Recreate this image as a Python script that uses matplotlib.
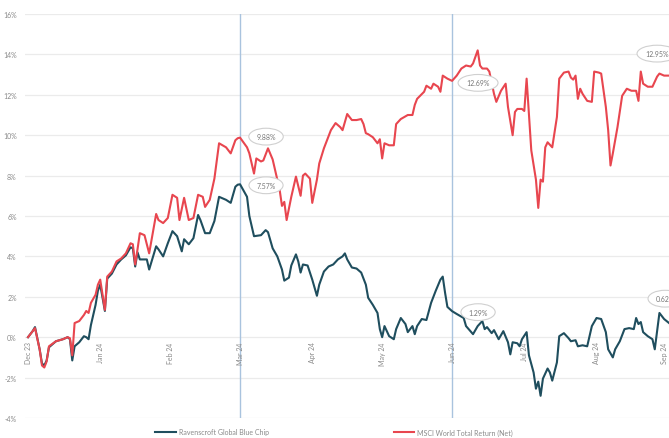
import matplotlib
matplotlib.use("Agg")
import matplotlib.pyplot as plt
import pandas as pd

plt.rcParams["font.family"] = ["Lato", "DejaVu Sans"]

START = pd.Timestamp("2023-12-29")

# Cumulative return (%) — Ravenscroft Global Blue Chip, by calendar day since start
blue_days = [0, 2, 3, 5, 6, 7, 8, 9, 12, 15,
             17, 18, 19, 20, 22, 24, 25, 26, 27, 29,
             30, 31, 33, 34, 36, 38, 40, 42, 44, 45,
             46, 47, 48, 51, 52, 55, 56, 58, 60, 62,
             64, 66, 67, 69, 71, 73, 74, 76, 78, 80,
             82, 85, 87, 89, 90, 91, 94, 95, 97, 100,
             102, 103, 105, 107, 109, 110, 112, 113, 115, 116,
             117, 118, 120, 122, 124, 125, 127, 129, 131, 133,
             135, 136, 137, 139, 141, 143, 145, 146, 148, 150,
             151, 152, 153, 155, 157, 158, 160, 162, 163, 165,
             166, 167, 169, 171, 173, 175, 177, 178, 179, 180,
             182, 184, 187, 188, 191, 193, 195, 196, 197, 199,
             200, 202, 204, 206, 207, 208, 210, 211, 212, 214,
             215, 217, 218, 219, 220, 221, 223, 224, 225, 227,
             228, 230, 232, 233, 235, 236, 238, 240, 242, 244,
             246, 248, 249, 251, 252, 254, 256, 258, 260, 261,
             262, 263, 264, 266, 268, 269, 271, 273, 276]
blue_vals = [0.0, 0.3, 0.5, -0.6, -1.3, -1.4, -1.15, -0.5, -0.2, -0.1,
             0.0, -0.1, -1.15, -0.45, -0.25, 0.05, 0.0, -0.1, 0.6, 1.6,
             2.3, 2.6, 1.3, 2.9, 3.15, 3.6, 3.85, 4.05, 4.45, 4.4,
             3.5, 4.2, 3.85, 3.85, 3.35, 4.5, 4.35, 4.0, 4.65, 5.25,
             5.0, 4.25, 4.85, 4.6, 4.9, 6.05, 5.8, 5.15, 5.15, 5.75,
             6.95, 6.8, 6.65, 7.45, 7.55, 7.57, 6.95, 6.0, 5.0, 5.05,
             5.3, 5.2, 4.4, 4.0, 3.35, 2.8, 2.95, 3.55, 4.1, 3.75,
             3.2, 3.6, 3.55, 2.85, 2.05, 2.6, 3.25, 3.5, 3.6, 3.85,
             4.0, 4.15, 3.85, 3.45, 3.4, 3.2, 2.6, 1.95, 1.6, 1.2,
             0.4, 0.0, 0.55, 0.05, -0.1, 0.4, 0.95, 0.65, 0.25, 0.55,
             0.15, 0.55, 0.9, 0.85, 1.7, 2.3, 2.85, 3.0, 2.2, 1.5,
             1.29, 1.15, 0.95, 0.55, 0.15, 0.55, 0.8, 0.4, 0.5, 0.2,
             0.35, -0.1, 0.3, -0.25, -0.85, -0.25, -0.3, -0.45, -0.1, 0.25,
             -0.9, -1.75, -2.55, -2.2, -2.9, -2.05, -1.55, -1.75, -2.15, -1.25,
             0.05, 0.2, -0.05, -0.2, -0.15, -0.45, -0.4, -0.45, 0.55, 0.95,
             0.9, 0.25, -0.6, -1.0, -0.6, -0.2, 0.4, 0.45, 0.4, 0.95,
             0.65, 0.75, 0.25, 0.05, -0.1, -0.6, 1.2, 0.9, 0.62]

# Cumulative return (%) — MSCI World Total Return (Net)
red_days = [0, 2, 3, 5, 6, 7, 8, 9, 12, 15,
            17, 18, 19, 20, 22, 24, 25, 26, 27, 29,
            30, 31, 33, 34, 36, 38, 40, 42, 44, 45,
            46, 47, 48, 50, 52, 55, 56, 58, 60, 62,
            64, 65, 67, 69, 71, 73, 75, 76, 78, 80,
            82, 85, 87, 89, 90, 91, 94, 95, 97, 98,
            100, 101, 103, 105, 106, 108, 109, 110, 111, 113,
            115, 117, 118, 119, 121, 122, 124, 125, 127, 130,
            132, 134, 135, 137, 139, 141, 143, 144, 145, 146,
            148, 150, 151, 152, 153, 155, 157, 158, 160, 163,
            165, 166, 167, 170, 171, 173, 174, 176, 177, 178,
            180, 182, 184, 186, 188, 190, 191, 193, 194, 195,
            197, 198, 200, 201, 203, 205, 206, 208, 209, 210,
            212, 213, 214, 215, 216, 218, 219, 220, 221, 222,
            223, 225, 227, 228, 230, 232, 233, 234, 235, 236,
            237, 238, 240, 242, 243, 245, 246, 248, 249, 250,
            251, 253, 255, 257, 259, 261, 262, 263, 264, 266,
            268, 270, 271, 273, 276]
red_vals = [0.0, 0.3, 0.45, -0.6, -1.4, -1.5, -1.2, -0.45, -0.2, -0.1,
            0.0, -0.05, -0.9, 0.7, 0.8, 1.1, 1.3, 1.2, 1.7, 2.1,
            2.6, 2.85, 1.35, 3.0, 3.25, 3.75, 3.9, 4.15, 4.65, 4.6,
            3.6, 4.35, 5.15, 5.05, 4.15, 6.1, 5.8, 5.65, 5.9, 7.05,
            6.9, 5.8, 6.9, 5.8, 5.9, 7.05, 6.95, 6.45, 6.8, 7.85,
            9.6, 9.4, 9.1, 9.75, 9.85, 9.88, 9.4, 9.1, 8.1, 8.85,
            8.7, 8.75, 9.35, 8.8, 8.3, 7.3, 6.5, 6.7, 5.8, 6.95,
            7.95, 7.0, 8.0, 8.1, 7.85, 6.65, 7.8, 8.6, 9.35, 10.25,
            10.6, 10.4, 10.25, 11.05, 10.75, 10.75, 10.8, 10.55, 10.1, 10.05,
            9.9, 9.6, 9.8, 8.85, 9.6, 9.5, 9.5, 10.55, 10.8, 11.0,
            11.0, 11.5, 11.8, 12.15, 12.45, 12.3, 12.55, 12.4, 12.15, 12.95,
            12.8, 12.69, 12.95, 13.3, 13.45, 13.4, 13.55, 14.2, 13.45, 13.3,
            13.3, 13.15, 12.05, 11.65, 12.2, 12.55, 11.4, 10.0, 11.15, 11.3,
            11.3, 11.2, 12.8, 11.05, 9.25, 7.8, 6.4, 7.8, 7.7, 9.4,
            9.65, 9.4, 10.9, 12.8, 13.1, 13.15, 12.85, 12.75, 12.95, 11.8,
            12.3, 12.05, 11.7, 11.65, 13.15, 13.1, 13.05, 11.4, 10.25, 8.5,
            9.1, 10.4, 11.95, 12.3, 12.2, 12.2, 11.7, 13.15, 12.55, 12.4,
            12.4, 12.9, 13.05, 12.95, 12.95]

tick_dates = ["2023-12-29", "2024-01-29", "2024-02-28", "2024-03-29", "2024-04-29",
              "2024-05-29", "2024-06-28", "2024-07-29", "2024-08-29", "2024-09-27"]
tick_labels = ["Dec 23", "Jan 24", "Feb 24", "Mar 24", "Apr 24",
               "May 24", "Jun 24", "Jul 24", "Aug 24", "Sep 24"]
y_ticks = [-4, -2, 0, 2, 4, 6, 8, 10, 12, 14, 16]

marker_days = [91, 182]          # 29 Mar 2024, 28 Jun 2024

series_names = ["Ravenscroft Global Blue Chip", "MSCI World Total Return (Net)"]
BLUE = "#1f4e5e"
RED = "#e8464f"
GRID = "#ebebeb"
TXT = "#8a8a8a"


def to_dates(days):
    return START + pd.to_timedelta(days, unit="D")


W, H = 669, 439
fig = plt.figure(figsize=(W / 100, H / 100), dpi=100)
ax_left, ax_right, ax_top, ax_bottom = 25, 700, 15, 419
ax = fig.add_axes([ax_left / W, (H - ax_bottom) / H,
                   (ax_right - ax_left) / W, (ax_bottom - ax_top) / H])

# x axis sits on the zero line; set before configuring tick labels
ax.spines["bottom"].set_position(("data", 0))
for s in ax.spines.values():
    s.set_visible(False)

bd = to_dates(blue_days)
rd = to_dates(red_days)

for y in y_ticks:
    ax.axhline(y, color=GRID, lw=0.9, zorder=0)

for d in marker_days:
    ax.axvline(to_dates([d])[0], color="#a9c3de", lw=1.0, zorder=1)

ax.plot(bd, blue_vals, color=BLUE, lw=1.5, zorder=3, label=series_names[0],
        solid_joinstyle="round")
ax.plot(rd, red_vals, color=RED, lw=1.5, zorder=3, label=series_names[1],
        solid_joinstyle="round")

px_per_day = 2.33
ax.set_xlim(START - pd.Timedelta(days=(28 - ax_left) / px_per_day),
            START + pd.Timedelta(days=(ax_right - 28) / px_per_day))
ax.set_ylim(-4, 16)

ax.set_yticks(y_ticks)
ax.set_yticklabels([f"{v}%" for v in y_ticks])
ax.set_xticks(pd.to_datetime(tick_dates))
ax.set_xticklabels(tick_labels)
ax.tick_params(axis="x", length=0, pad=3, labelsize=5, labelcolor=TXT,
               labelrotation=90)
ax.tick_params(axis="y", length=0, pad=6, labelsize=5, labelcolor=TXT)
for lab in ax.get_xticklabels():
    lab.set_va("top")
    lab.set_ha("center")
ax.patch.set_alpha(0)


def bubble(day, days, vals, dx, dy):
    v = vals[days.index(day)]
    ax.annotate(f"{v:.2f}%", xy=(to_dates([day])[0], v), xytext=(dx, dy),
                textcoords="offset pixels", ha="center", va="center",
                fontsize=5, color="#777777", zorder=5,
                bbox=dict(boxstyle="ellipse,pad=0.35", fc="white",
                          ec="#d0d0d0", lw=0.8))


bubble(91, red_days, red_vals, 26, 1)
bubble(91, blue_days, blue_vals, 26, -1)
bubble(182, red_days, red_vals, 26, -2)
bubble(182, blue_days, blue_vals, 26, -1)
bubble(red_days[-1], red_days, red_vals, -14, 22)
bubble(blue_days[-1], blue_days, blue_vals, -6, 26)

fig.legend(loc="center", bbox_to_anchor=(334 / W, 1 - 433 / H), ncol=2,
           frameon=False, fontsize=5, labelcolor=TXT, handlelength=3,
           handletextpad=0.4, columnspacing=18)

fig.savefig("out.png", dpi=100, facecolor="white")
